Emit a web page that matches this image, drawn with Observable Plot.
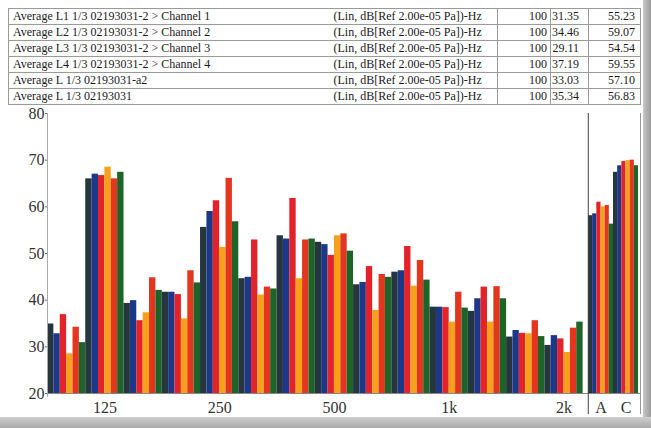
<!DOCTYPE html>
<html><head><meta charset="utf-8">
<script src="https://cdn.jsdelivr.net/npm/d3@7"></script>
<script src="https://cdn.jsdelivr.net/npm/@observablehq/plot@0.6"></script>
<style>
body{margin:0;background:#fff;font-family:"Liberation Serif","Times New Roman",serif;}
#wrap{position:relative;width:651px;height:428px;overflow:hidden;background:#fff;}
#shadowR{position:absolute;left:643px;top:0;width:8px;height:428px;background:linear-gradient(to right,#c8c8c8,#9a9a9a);}
#shadowB{position:absolute;left:0;top:417px;width:651px;height:11px;background:linear-gradient(#d0d0d0,#a8a8a8);}
table{position:absolute;left:8px;top:8px;border-collapse:collapse;table-layout:fixed;font-family:"Liberation Serif","Times New Roman",serif;font-size:12px;color:#1a1a1a;}
td{border:1px solid #9a9a9a;height:15px;padding:0;white-space:nowrap;line-height:15px;overflow:hidden;}
td.name{padding-left:4px;border-right:none;}
td.unit{padding-left:3px;border-left:none;}
td.num{text-align:right;padding-right:3px;}
td.num2{text-align:right;padding-right:9px;}
td.num3{text-align:right;padding-right:5px;}
#chart{position:absolute;left:0;top:104px;}
</style></head>
<body>
<div id="wrap">
  <div id="shadowR"></div>
  <div id="shadowB"></div>
  <table id="tbl"></table>
  <div id="chart"></div>
</div>
<script>
// ---- table data ----
const seriesNames = [
  "Average L1 1/3 02193031-2 > Channel 1",
  "Average L2 1/3 02193031-2 > Channel 2",
  "Average L3 1/3 02193031-2 > Channel 3",
  "Average L4 1/3 02193031-2 > Channel 4",
  "Average L 1/3 02193031-a2",
  "Average L 1/3 02193031"
];
const unitText = "(Lin, dB[Ref 2.00e-05 Pa])-Hz";
const colRef = ["100","100","100","100","100","100"];
const colMin = ["31.35","34.46","29.11","37.19","33.03","35.34"];
const colTotal = ["55.23","59.07","54.54","59.55","57.10","56.83"];

// ---- chart data ----
const bands = ["100","125","160","200","250","315","400","500","630","800","1k","1.25k","1.6k","2k"];
const weighted = ["A","C"];
const seriesColors = ["#26363f","#1d3889","#e3222a","#f6a01c","#e4361f","#1d6428"];
const ch1  = [34.9, 66.0, 39.3, 41.7, 55.6, 44.6, 53.8, 52.4, 43.3, 46.0, 38.5, 37.6, 32.1, 30.3, 58.1, 67.4];
const ch2  = [32.8, 67.0, 39.9, 41.7, 59.0, 44.9, 53.1, 51.9, 43.8, 46.3, 38.5, 40.3, 33.5, 32.4, 58.5, 68.8];
const ch3  = [36.9, 66.7, 35.6, 41.2, 61.3, 52.9, 61.8, 49.6, 47.2, 51.5, 38.4, 42.8, 32.9, 31.7, 61.0, 69.7];
const ch4  = [28.5, 68.5, 37.3, 36.0, 51.3, 41.1, 44.6, 53.8, 37.8, 43.0, 35.3, 35.3, 32.8, 28.8, 60.0, 69.9];
const avgA2 = [34.2, 66.0, 44.8, 46.3, 66.1, 42.8, 52.9, 54.2, 45.5, 48.5, 41.7, 42.9, 35.6, 34.0, 60.3, 70.0];
const avgL  = [30.9, 67.4, 42.1, 43.7, 56.8, 42.4, 53.1, 50.5, 44.9, 44.3, 38.3, 40.3, 32.2, 35.3, 56.3, 68.8];
const xTickLabels = ["125","250","500","1k","2k","A","C"];
const yTicks = [20,30,40,50,60,70,80];

// ---- build table ----
const tbl = document.getElementById("tbl");
const widths = [322,167,53,38,52];
const cg = document.createElement("colgroup");
widths.forEach(w=>{const c=document.createElement("col");c.style.width=w+"px";cg.appendChild(c);});
tbl.appendChild(cg);
seriesNames.forEach((n,i)=>{
  const tr=document.createElement("tr");
  [[n,"name"],[unitText,"unit"],[colRef[i],"num"],[colMin[i],"num2"],[colTotal[i],"num3"]].forEach(([t,c])=>{
    const td=document.createElement("td");td.className=c;td.textContent=t;tr.appendChild(td);
  });
  tbl.appendChild(tr);
});

// ---- build bars ----
const allSeries = [ch1,ch2,ch3,ch4,avgA2,avgL];
const groups = bands.concat(weighted);
const sepGap = 0.14, wWidth = 0.654;
const rows = [];
groups.forEach((g,i)=>{
  const isW = i >= bands.length;
  const start = isW ? bands.length + sepGap + (i-bands.length)*wWidth : i;
  const w = isW ? wWidth : 1;
  allSeries.forEach((arr,s)=>{
    rows.push({group:g, series:seriesNames[s], value:arr[i], x1:start + s*w/6, x2:start + (s+1)*w/6});
  });
});
const groupCenter = g => {
  const i = groups.indexOf(g);
  return i >= bands.length ? bands.length + sepGap + (i-bands.length+0.5)*wWidth : i + 0.5;
};
const tickPos = xTickLabels.map(groupCenter);
const sepX = bands.length + sepGap - 0.005;
const xMax = 15.5;

const chart = Plot.plot({
  width:651, height:314,
  marginLeft:47, marginRight:11, marginTop:9, marginBottom:25,
  style:{fontFamily:"'Liberation Serif','Times New Roman',serif", color:"#333", background:"transparent"},
  x:{domain:[0,xMax], axis:null},
  y:{domain:[20,80], axis:null},
  color:{domain:seriesNames, range:seriesColors},
  marks:[
    Plot.rect(rows,{x1:"x1", x2:"x2", y1:20, y2:"value", fill:"series"}),
    Plot.ruleY([20],{stroke:"#888"}),
    Plot.ruleX([0],{stroke:"#aaa", y1:19.2, y2:80}),
    Plot.ruleX([xMax],{stroke:"#999", y1:15.5, y2:80}),
    Plot.ruleX([sepX],{stroke:"#444", y1:15.5, y2:80}),
    Plot.axisY({ticks:yTicks, tickSize:2, tickPadding:1, fontSize:16, stroke:"#666", label:null}),
    Plot.axisX({ticks:tickPos, tickFormat:(d,i)=>xTickLabels[i], tickSize:0, tickPadding:8, fontSize:16, label:null})
  ]
});
document.getElementById("chart").appendChild(chart);
</script>
</body></html>
